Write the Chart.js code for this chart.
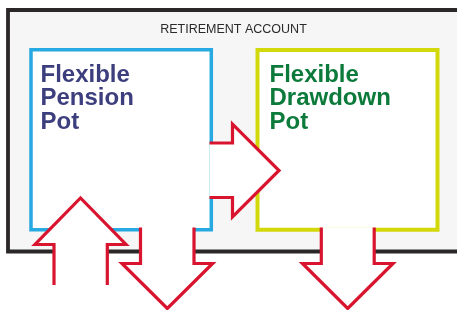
<!DOCTYPE html>
<html>
<head>
<meta charset="utf-8">
<script src="https://cdn.jsdelivr.net/npm/chart.js@4.4.1/dist/chart.umd.min.js"></script>
<style>
  html, body { margin: 0; padding: 0; background: #fff; }
  #wrap { width: 457px; height: 310px; }
</style>
</head>
<body>
<div id="wrap"><canvas id="chart" width="457" height="310"></canvas></div>
<script>
// Diagram shapes as vertex lists (x to the right, y downwards)
const outerBox = [[470, 10], [8, 10], [8, 251.5], [470, 251.5]];
const pensionBox = [[120, 49.7], [211.3, 49.7], [211.3, 229.7], [31, 229.7], [31, 49.7], [120, 49.7]];
const drawdownBox = [[340, 50], [437.5, 50], [437.5, 229.7], [257.5, 229.7], [257.5, 50], [340, 50]];
const arrowAcross = [[209.5, 143], [232.5, 143], [232.5, 124], [279, 170.5], [232.5, 217], [232.5, 197.5], [209.5, 197.5]];
const arrowIn = [[54, 285], [54, 244.5], [35, 244.5], [80.5, 198], [126, 244.5], [107.3, 244.5], [107.3, 285]];
const arrowOutPension = [[140.5, 227.5], [140.5, 263.5], [122, 263.5], [167.3, 308.5], [212.6, 263.5], [194, 263.5], [194, 227.5]];
const arrowOutDrawdown = [[321.3, 227.5], [321.3, 263.5], [302.5, 263.5], [347.7, 308.5], [393, 263.5], [374.2, 263.5], [374.2, 227.5]];

// Texts
const accountTitle = 'RETIREMENT ACCOUNT';
const pensionLines = ['Flexible', 'Pension', 'Pot'];
const drawdownLines = ['Flexible', 'Drawdown', 'Pot'];

const RED = '#d8142e';

function shape(points, stroke, fillColor, width, order) {
  return {
    data: points.map(([px, py]) => ({ x: px, y: py })),
    showLine: true,
    borderColor: stroke,
    backgroundColor: fillColor,
    borderWidth: width,
    pointRadius: 0,
    pointHoverRadius: 0,
    fill: false,
    tension: 0,
    borderJoinStyle: 'miter',
    borderCapStyle: 'butt',
    order: order
  };
}

// fill each shape with its backgroundColor before the library strokes it
const shapeFill = {
  id: 'shapeFill',
  beforeDatasetDraw(chart, args) {
    const pts = args.meta.data;
    const ds = chart.data.datasets[args.index];
    if (!ds.backgroundColor || pts.length < 2) return;
    const ctx = chart.ctx;
    ctx.save();
    ctx.beginPath();
    pts.forEach((p, i) => (i ? ctx.lineTo(p.x, p.y) : ctx.moveTo(p.x, p.y)));
    ctx.closePath();
    ctx.fillStyle = ds.backgroundColor;
    ctx.fill();
    ctx.restore();
  }
};

const diagramLabels = {
  id: 'diagramLabels',
  afterDatasetsDraw(chart) {
    const { ctx, scales: { x, y } } = chart;
    ctx.save();
    ctx.textBaseline = 'alphabetic';

    ctx.font = '12.5px "Liberation Sans", Arial, sans-serif';
    ctx.fillStyle = '#2a2a2a';
    ctx.textAlign = 'center';
    ctx.fillText(accountTitle, x.getPixelForValue(233.5), y.getPixelForValue(33));

    ctx.font = 'bold 24px "Liberation Sans", Arial, sans-serif';
    ctx.textAlign = 'left';
    ctx.fillStyle = '#3c3e7d';
    pensionLines.forEach((t, i) => {
      ctx.fillText(t, x.getPixelForValue(40.5), y.getPixelForValue(81.5 + i * 23.6));
    });
    ctx.fillStyle = '#0b7a3b';
    drawdownLines.forEach((t, i) => {
      ctx.fillText(t, x.getPixelForValue(269.5), y.getPixelForValue(81.5 + i * 23.6));
    });
    ctx.restore();
  }
};

new Chart(document.getElementById('chart'), {
  type: 'scatter',
  data: {
    datasets: [
      shape(outerBox, '#2b2627', '#f6f6f6', 3.8, 10),
      shape(pensionBox, '#27a9e1', '#ffffff', 3.5, 9),
      shape(drawdownBox, '#d3d80b', '#ffffff', 4, 8),
      shape(arrowAcross, RED, '#ffffff', 3.2, 4),
      shape(arrowIn, RED, '#ffffff', 3.2, 3),
      shape(arrowOutPension, RED, '#ffffff', 3.2, 2),
      shape(arrowOutDrawdown, RED, '#ffffff', 3.2, 1)
    ]
  },
  options: {
    responsive: false,
    animation: false,
    events: [],
    layout: { padding: 0 },
    scales: {
      x: { type: 'linear', min: 0, max: 457, display: false },
      y: { type: 'linear', min: 0, max: 310, reverse: true, display: false }
    },
    plugins: {
      legend: { display: false },
      tooltip: { enabled: false }
    }
  },
  plugins: [shapeFill, diagramLabels]
});
</script>
</body>
</html>
